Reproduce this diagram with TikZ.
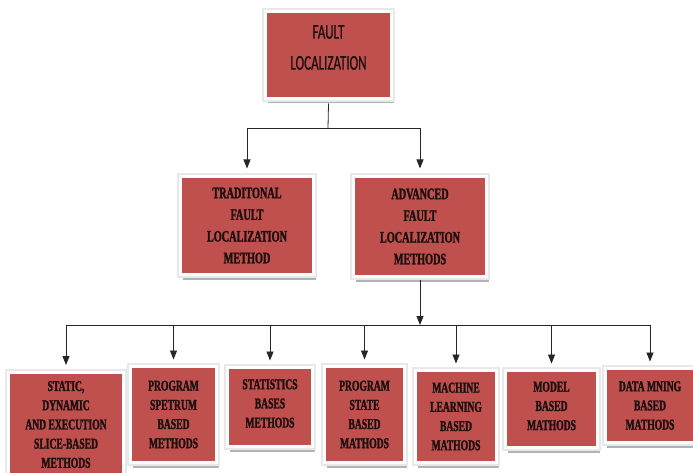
\documentclass[tikz,border=0pt]{standalone}
\usepackage{fontspec}
\usetikzlibrary{arrows.meta}
\newfontfamily\condserif[FakeStretch=0.64, FakeBold=1.6]{Liberation Serif Bold}
\newfontfamily\condsans[FakeStretch=0.62, FakeBold=0.8]{Carlito}
\definecolor{boxred}{HTML}{C0504D}
\definecolor{txt}{HTML}{1A1010}
\begin{document}
\begin{tikzpicture}[x=1pt,y=-1pt,
  box/.style={rectangle, inner sep=0pt, outer sep=0pt, fill=boxred, draw=white, line width=3pt,
    text=txt, align=center,
    preaction={fill=black!30, transform canvas={shift={(2pt,-5pt)}}},
    preaction={draw=black!9, line width=6.5pt}},
  bfont/.style={font={\condserif\fontsize{15}{19.2}\selectfont}},
  botbox/.style={box, bfont},
  bottext/.style={bfont, text=txt, align=center, inner sep=0pt},
  midbox/.style={box, font={\condserif\fontsize{16}{21.7}\selectfont}},
  topbox/.style={box},
  toptext/.style={font={\condsans\fontsize{21}{31}\selectfont}, text=txt, align=center, inner sep=0pt},
  link/.style={line width=0.8pt, black!85},
  arr/.style={link, -{Triangle[width=7pt,length=9pt]}}
]
\clip (0,0) rectangle (693,473);
\fill[white] (0,0) rectangle (693,473);

% top
\node[topbox, minimum width=126pt, minimum height=87pt] (top) at (328.5,55) {};
\node[toptext] (toptxt) at (328.5,47.5) {FAULT\\LOCALIZATION};

% middle
\node[midbox, minimum width=133pt, minimum height=98pt] (trad) at (247,225.5) {TRADITONAL\\FAULT\\LOCALIZATION\\METHOD};
\node[midbox, minimum width=133pt, minimum height=100pt] (adv) at (420,226.5) {ADVANCED\\FAULT\\LOCALIZATION\\METHODS};

% bottom
\node[botbox, minimum width=115pt, minimum height=105pt] (b1) at (66,424.5) {STATIC,\\DYNAMIC\\AND EXECUTION\\SLICE-BASED\\METHODS};
\node[botbox, minimum width=86pt, minimum height=96pt] (b2) at (173.5,414.5) {PROGRAM\\SPETRUM\\BASED\\METHODS};
\node[botbox, minimum width=85pt, minimum height=79pt] (b3) at (270,407) {};
\node[bottext] (b3t) at (270,403.5) {STATISTICS\\BASES\\METHODS};
\node[botbox, minimum width=80pt, minimum height=96pt] (b4) at (364.5,414.5) {PROGRAM\\STATE\\BASED\\MATHODS};
\node[botbox, minimum width=81pt, minimum height=92pt] (b5) at (456,416.5) {MACHINE\\LEARNING\\BASED\\MATHODS};
\node[botbox, minimum width=92pt, minimum height=77pt] (b6) at (551.5,409) {};
\node[bottext] (b6t) at (551.5,406) {MODEL\\BASED\\MATHODS};
\node[botbox, minimum width=90pt, minimum height=74pt] (b7) at (650,405.5) {DATA MNING\\BASED\\MATHODS};

% connectors top -> middle
\coordinate (j1) at (328,128);
\draw[link] ([yshift=-5pt]top.south) -- (j1);
\draw[link] (trad |- j1) -- (adv |- j1);
\draw[arr] (trad |- j1) -- ([yshift=8pt]trad.north);
\draw[arr] (adv |- j1) -- ([yshift=8pt]adv.north);

% connectors advanced -> bottom
\coordinate (j2) at (420,325);
\draw[arr] ([yshift=-3pt]adv.south) -- (j2);
\draw[link] (b1 |- j2) -- (b7 |- j2);
\foreach \b in {b1,b2,b3,b4,b5,b6,b7}{
  \draw[arr] (\b |- j2) -- ([yshift=7pt]\b.north);
}
\end{tikzpicture}
\end{document}
